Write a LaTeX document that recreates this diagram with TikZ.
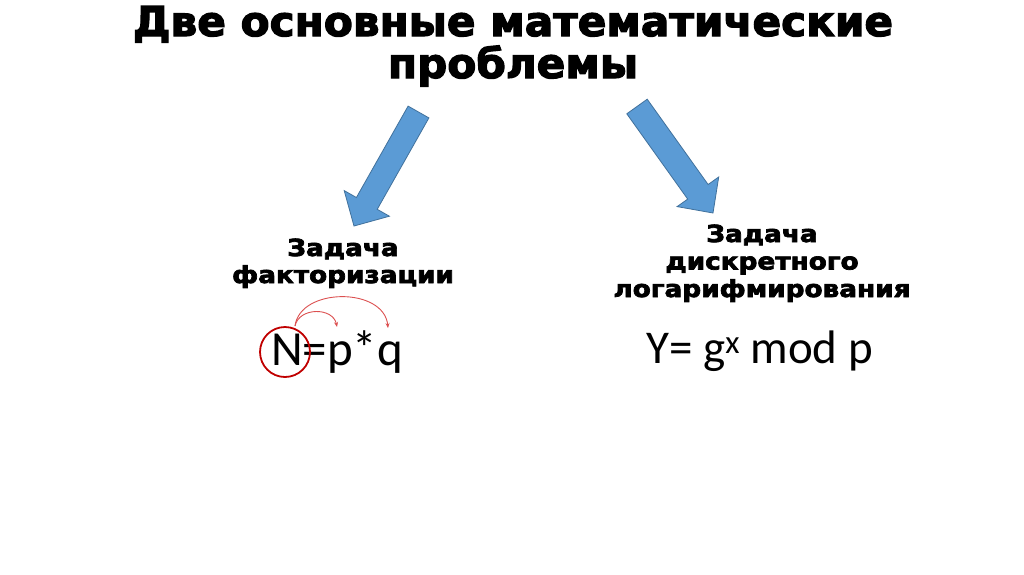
\documentclass[tikz,border=0pt]{standalone}
\usepackage{fontspec}
\usetikzlibrary{arrows.meta}
\newfontfamily\heavy{DejaVu Sans}[BoldFeatures={FakeBold=3}]
\newfontfamily\cali{Carlito}
\definecolor{arrowfill}{RGB}{91,155,213}
\definecolor{arrowline}{RGB}{65,113,156}
\definecolor{circred}{RGB}{192,0,0}
\definecolor{linkred}{RGB}{220,80,80}
\tikzset{
  titletext/.style={inner sep=0pt, anchor=base, font=\heavy\bfseries\addfontfeature{FakeStretch=1.03}\fontsize{41}{41}\selectfont},
  subtext/.style={inner sep=0pt, anchor=base, font=\heavy\bfseries\addfontfeature{FakeStretch=1.12}\fontsize{23.5}{23.5}\selectfont},
  formula/.style={inner sep=0pt, anchor=base west, font=\cali\fontsize{49}{49}\selectfont},
  formulab/.style={inner sep=0pt, anchor=base west, font=\cali\fontsize{47}{47}\selectfont},
  bigarrow/.style={fill=arrowfill, draw=arrowline, line width=0.8pt, line join=miter},
  link/.style={draw=linkred, line width=0.9pt, -{Stealth[length=5pt,width=4pt]}},
}
\begin{document}
\begin{tikzpicture}[x=1pt,y=-1pt]
\useasboundingbox (0,0) rectangle (1024,574);
\fill[white] (0,0) rectangle (1024,574);
% title
\node[titletext] (t1) at (513,36) {Две основные математические};
\node[titletext] (t2) at (513,78) {проблемы};
% arrows
\draw[bigarrow] (408.1,106.1) -- (428.9,117.9) -- (377.2,209.3) -- (389.4,216.2)
  -- (354,226) -- (344.2,190.6) -- (356.4,197.5) -- cycle;
\draw[bigarrow] (626.8,113.8) -- (647.2,99.2) -- (708.1,184.5) -- (718.7,177.0)
  -- (713,213) -- (677.1,206.6) -- (687.7,199.1) -- cycle;
% left heading
\node[subtext] (l1) at (343,256) {Задача};
\node[subtext] (l2) at (343,283) {факторизации};
% right heading
\node[subtext] (r1) at (762,242) {Задача};
\node[subtext] (r2) at (762,269.5) {дискретного};
\node[subtext] (r3) at (762,297) {логарифмирования};
% formulas
\node[formula] (f1) at (271,365) {N=p*q};
\node[formulab] (f2) at (646,363) {Y= g\textsuperscript{x} mod p};
% circle and links
\node[draw=circred, line width=1.8pt, circle, minimum size=50pt, inner sep=0pt] (c) at (285,352) {};
\coordinate (s) at (295,326);
\coordinate (pe) at (337,327);
\coordinate (qe) at (388,328);
\draw[link] (s) .. controls (299,307) and (333,307) .. (pe);
\draw[link] (s) .. controls (300,287) and (384,287) .. (qe);
\end{tikzpicture}
\end{document}
